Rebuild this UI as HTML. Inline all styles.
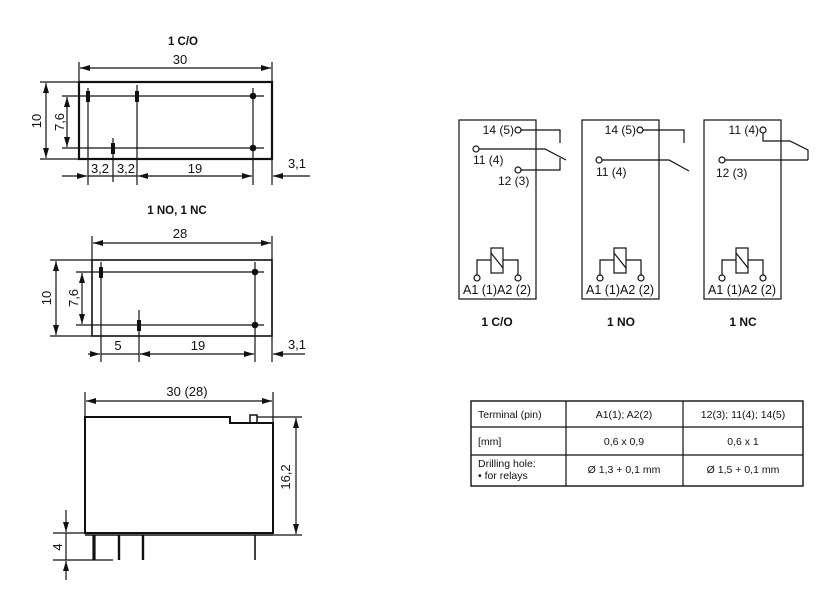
<!DOCTYPE html>
<html><head><meta charset="utf-8">
<style>
html,body{margin:0;padding:0;background:#fff;}
svg{display:block;}
text{font-family:"Liberation Sans",Arial,sans-serif;fill:#111;}
</style></head>
<body>
<svg width="838" height="615" viewBox="0 0 838 615" xmlns="http://www.w3.org/2000/svg">
<defs>
<marker id="ae" markerWidth="10" markerHeight="6" refX="10" refY="3" orient="auto" markerUnits="userSpaceOnUse"><path d="M0,0 L10,3 L0,6 Z" fill="#111"/></marker>
<marker id="as" markerWidth="10" markerHeight="6" refX="0" refY="3" orient="auto" markerUnits="userSpaceOnUse"><path d="M10,0 L0,3 L10,6 Z" fill="#111"/></marker>
</defs>
<g stroke="#111" fill="none" stroke-width="1.2">
<rect x="79" y="82" width="193" height="77" stroke-width="2.2"/>
<line x1="79" y1="62" x2="79" y2="82"/><line x1="272" y1="62" x2="272" y2="185"/>
<line x1="80" y1="68" x2="271" y2="68" marker-start="url(#as)" marker-end="url(#ae)"/>
<line x1="40" y1="82" x2="79" y2="82"/><line x1="40" y1="159" x2="79" y2="159"/>
<line x1="46" y1="83" x2="46" y2="158" marker-start="url(#as)" marker-end="url(#ae)"/>
<line x1="62" y1="96" x2="264" y2="96"/><line x1="62" y1="148" x2="264" y2="148"/>
<line x1="67" y1="97" x2="67" y2="147" marker-start="url(#as)" marker-end="url(#ae)"/>
<line x1="88" y1="88" x2="88" y2="185"/><line x1="137" y1="85" x2="137" y2="185"/>
<line x1="113" y1="138" x2="113" y2="182"/><line x1="253" y1="88" x2="253" y2="185"/>
<line x1="62" y1="176" x2="87" y2="176" marker-end="url(#ae)"/>
<line x1="88" y1="176" x2="137" y2="176"/>
<line x1="180" y1="176" x2="138" y2="176" marker-end="url(#ae)"/>
<line x1="180" y1="176" x2="252" y2="176" marker-end="url(#ae)"/>
<line x1="310" y1="176" x2="273" y2="176" marker-end="url(#ae)"/>
<rect x="92" y="260" width="180" height="76" stroke-width="1.6"/>
<line x1="92" y1="236" x2="92" y2="260"/><line x1="272" y1="236" x2="272" y2="362"/>
<line x1="93" y1="243" x2="271" y2="243" marker-start="url(#as)" marker-end="url(#ae)"/>
<line x1="50" y1="260" x2="92" y2="260"/><line x1="50" y1="336" x2="92" y2="336"/>
<line x1="56" y1="261" x2="56" y2="335" marker-start="url(#as)" marker-end="url(#ae)"/>
<line x1="76" y1="272" x2="264" y2="272"/><line x1="76" y1="325" x2="264" y2="325"/>
<line x1="82" y1="273" x2="82" y2="324" marker-start="url(#as)" marker-end="url(#ae)"/>
<line x1="101" y1="262" x2="101" y2="362"/><line x1="139" y1="310" x2="139" y2="362"/>
<line x1="255" y1="262" x2="255" y2="362"/>
<line x1="88" y1="354" x2="100" y2="354" marker-end="url(#ae)"/>
<line x1="101" y1="354" x2="139" y2="354"/>
<line x1="180" y1="354" x2="140" y2="354" marker-end="url(#ae)"/>
<line x1="180" y1="354" x2="254" y2="354" marker-end="url(#ae)"/>
<line x1="305" y1="354" x2="273" y2="354" marker-end="url(#ae)"/>
<line x1="85" y1="392" x2="85" y2="417"/><line x1="273" y1="392" x2="273" y2="423"/>
<line x1="86" y1="401" x2="272" y2="401" marker-start="url(#as)" marker-end="url(#ae)"/>
<path d="M85,533 L85,417 L230,417 L230,423 L273,423 L273,533 Z" stroke-width="2"/>
<rect x="250" y="415" width="7" height="8" stroke-width="1.5"/>
<line x1="85" y1="535" x2="273" y2="535" stroke-width="1.5"/>
<line x1="257" y1="417" x2="302" y2="417"/><line x1="273" y1="535" x2="302" y2="535"/>
<line x1="296" y1="418" x2="296" y2="534" marker-start="url(#as)" marker-end="url(#ae)"/>
<line x1="94" y1="535" x2="94" y2="560" stroke-width="3.2"/>
<line x1="119" y1="535" x2="119" y2="560" stroke-width="2.4"/>
<line x1="143" y1="535" x2="143" y2="560" stroke-width="2.4"/>
<line x1="255" y1="535" x2="255" y2="560" stroke-width="1.6"/>
<line x1="53" y1="533" x2="85" y2="533"/><line x1="53" y1="560" x2="113" y2="560"/>
<line x1="66" y1="510" x2="66" y2="532" marker-end="url(#ae)"/>
<line x1="66" y1="533" x2="66" y2="560"/>
<line x1="66" y1="580" x2="66" y2="561" marker-end="url(#ae)"/>
<rect x="459" y="120" width="77" height="179"/>
<rect x="582" y="120" width="77" height="179"/>
<rect x="704" y="120" width="77" height="179"/>
<circle cx="518" cy="130" r="3"/><path d="M521,130 L560,130 L560,143"/>
<circle cx="476" cy="149" r="3"/><path d="M479,149 L545,149 L566,160"/>
<circle cx="518" cy="170" r="3"/><path d="M521,170 L560,170 L560,158"/>
<circle cx="640" cy="130" r="3"/><path d="M643,130 L684,130 L684,143"/>
<circle cx="599" cy="160" r="3"/><path d="M602,160 L669,160 L689,171"/>
<circle cx="763" cy="130" r="3"/><path d="M763,133 L763,141 L790,141 L808,150 L808,160"/>
<circle cx="722" cy="160" r="3"/><path d="M725,160 L808,160"/>
<g id="coil">
<rect x="491" y="248" width="12" height="25"/>
<line x1="491" y1="253" x2="503" y2="268"/>
<path d="M491,260 L477,260 L477,275"/><circle cx="477" cy="278" r="3"/>
<path d="M503,260 L518,260 L518,275"/><circle cx="518" cy="278" r="3"/>
</g>
<use href="#coil" x="123"/>
<use href="#coil" x="245"/>
<rect x="471" y="401" width="332" height="85" stroke-width="1.4"/>
<line x1="471" y1="427" x2="803" y2="427"/><line x1="471" y1="455" x2="803" y2="455"/>
<line x1="566" y1="401" x2="566" y2="486"/><line x1="683" y1="401" x2="683" y2="486"/>
</g>
<g fill="#111">
<rect x="86" y="91" width="4" height="11"/><rect x="135" y="91" width="4" height="11"/>
<rect x="111" y="143" width="4" height="11"/>
<circle cx="253" cy="96" r="3.3"/><circle cx="253" cy="148" r="3.3"/>
<rect x="99" y="267" width="4" height="11"/><rect x="137" y="320" width="4" height="11"/>
<circle cx="255" cy="272" r="3.3"/><circle cx="255" cy="325" r="3.3"/>
</g>
<g font-size="13">
<text x="183" y="45" text-anchor="middle" font-weight="bold" font-size="11.5">1 C/O</text>
<text x="180" y="64" text-anchor="middle">30</text>
<text transform="translate(41,121) rotate(-90)" text-anchor="middle">10</text>
<text transform="translate(64,122) rotate(-90)" text-anchor="middle">7,6</text>
<text x="100" y="173" text-anchor="middle">3,2</text>
<text x="126" y="173" text-anchor="middle">3,2</text>
<text x="195" y="173" text-anchor="middle">19</text>
<text x="297" y="168" text-anchor="middle">3,1</text>
<text x="177" y="214" text-anchor="middle" font-weight="bold" font-size="11.5">1 NO, 1 NC</text>
<text x="180" y="238" text-anchor="middle">28</text>
<text transform="translate(51,298) rotate(-90)" text-anchor="middle">10</text>
<text transform="translate(78,298) rotate(-90)" text-anchor="middle">7,6</text>
<text x="118" y="350" text-anchor="middle">5</text>
<text x="198" y="350" text-anchor="middle">19</text>
<text x="297" y="349" text-anchor="middle">3,1</text>
<text x="187" y="396" text-anchor="middle">30 (28)</text>
<text transform="translate(290,477) rotate(-90)" text-anchor="middle">16,2</text>
<text transform="translate(62,547) rotate(-90)" text-anchor="middle">4</text>
</g>
<g font-size="12">
<text x="514" y="134" text-anchor="end">14 (5)</text>
<text x="473" y="164">11 (4)</text>
<text x="498" y="185">12 (3)</text>
<text x="636" y="134" text-anchor="end">14 (5)</text>
<text x="596" y="176">11 (4)</text>
<text x="759" y="134" text-anchor="end">11 (4)</text>
<text x="716" y="177">12 (3)</text>
<text x="463" y="294" font-size="12.5">A1 (1)A2 (2)</text>
<text x="586" y="294" font-size="12.5">A1 (1)A2 (2)</text>
<text x="708" y="294" font-size="12.5">A1 (1)A2 (2)</text>
<text x="497" y="326" text-anchor="middle" font-weight="bold">1 C/O</text>
<text x="621" y="326" text-anchor="middle" font-weight="bold">1 NO</text>
<text x="743" y="326" text-anchor="middle" font-weight="bold">1 NC</text>
</g>
<g font-size="10.5">
<text x="478" y="418">Terminal (pin)</text>
<text x="624" y="418" text-anchor="middle">A1(1); A2(2)</text>
<text x="743" y="418" text-anchor="middle">12(3); 11(4); 14(5)</text>
<text x="478" y="445">[mm]</text>
<text x="624" y="445" text-anchor="middle">0,6 x 0,9</text>
<text x="743" y="445" text-anchor="middle">0,6 x 1</text>
<text x="478" y="467">Drilling hole:</text>
<text x="478" y="479">• for relays</text>
<text x="624" y="473" text-anchor="middle">Ø 1,3 + 0,1 mm</text>
<text x="743" y="473" text-anchor="middle">Ø 1,5 + 0,1 mm</text>
</g>
</svg>
</body></html>
